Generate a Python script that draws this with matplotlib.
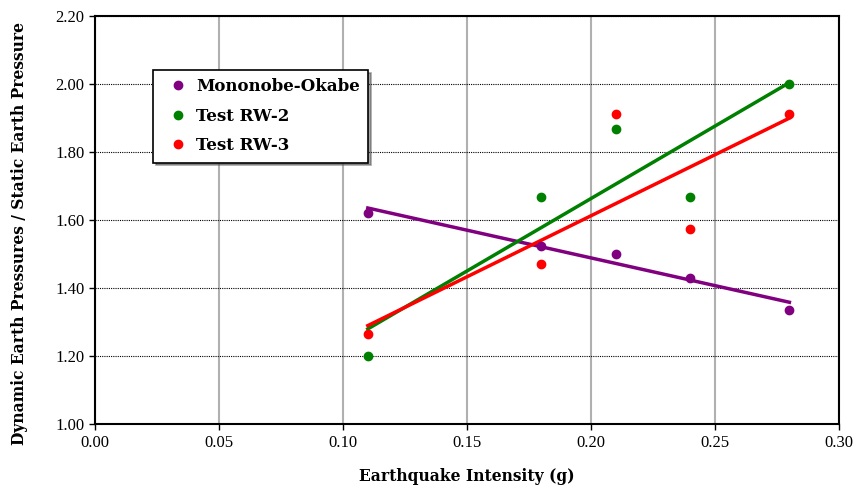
import numpy as np
import matplotlib
matplotlib.use('Agg')
import matplotlib.pyplot as plt

plt.rcParams['font.family'] = ['Liberation Serif', 'DejaVu Serif']

intensity = [0.11, 0.18, 0.21, 0.24, 0.28]
mononobe = [1.62, 1.525, 1.50, 1.43, 1.335]
rw2 = [1.20, 1.667, 1.867, 1.667, 2.00]
rw3 = [1.265, 1.47, 1.913, 1.573, 1.913]

series = [
    ('Mononobe-Okabe', mononobe, '#800080'),
    ('Test RW-2', rw2, '#008000'),
    ('Test RW-3', rw3, '#ff0000'),
]

fig = plt.figure(figsize=(8.6, 4.87), dpi=100)
ax = fig.add_axes([95 / 860, 1 - 424 / 487, 744 / 860, 408 / 487])

x = np.array(intensity)
for label, vals, color in series:
    ax.plot(x, vals, 'o', color=color, markersize=6, label=label, zorder=4)
    # linear trendline
    slope, icpt = np.polyfit(x, vals, 1)
    xs = np.array([x.min(), x.max()])
    ax.plot(xs, slope * xs + icpt, '-', color=color, lw=2.5, zorder=3)

ax.set_xlim(0, 0.30)
ax.set_ylim(1.0, 2.2)
ax.set_xticks(np.arange(0, 0.301, 0.05))
ax.set_yticks(np.arange(1.0, 2.201, 0.2))
ax.xaxis.set_major_formatter(matplotlib.ticker.FormatStrFormatter('%.2f'))
ax.yaxis.set_major_formatter(matplotlib.ticker.FormatStrFormatter('%.2f'))
ax.tick_params(labelsize=12, direction='out', length=4, width=1)
ax.tick_params(axis='x', pad=4)
ax.xaxis.grid(True, color='#b0b0b0', lw=1.5, ls='-')
ax.yaxis.grid(True, color='black', lw=0.8, ls=(0, (1, 1)))
ax.set_axisbelow(True)
for sp in ax.spines.values():
    sp.set_linewidth(1.5)

bold = {'family': 'DejaVu Serif', 'weight': 'bold', 'size': 11.2}
ax.set_xlabel('Earthquake Intensity (g)', fontdict=bold, labelpad=12)
ax.set_ylabel('Dynamic Earth Pressures / Static Earth Pressure', fontdict=bold)
ax.yaxis.set_label_coords(-0.09, 0.466)

leg = ax.legend(loc='upper left', bbox_to_anchor=(0.078, 0.868), fancybox=False,
                shadow=True, handletextpad=0.1, handlelength=2.0,
                borderpad=0.5, labelspacing=0.75, borderaxespad=0,
                prop={'family': 'DejaVu Serif', 'weight': 'bold', 'size': 12})
leg.get_frame().set_edgecolor('black')
leg.get_frame().set_linewidth(1.2)
leg.get_frame().set_alpha(1)

fig.savefig('out.png', dpi=100)
